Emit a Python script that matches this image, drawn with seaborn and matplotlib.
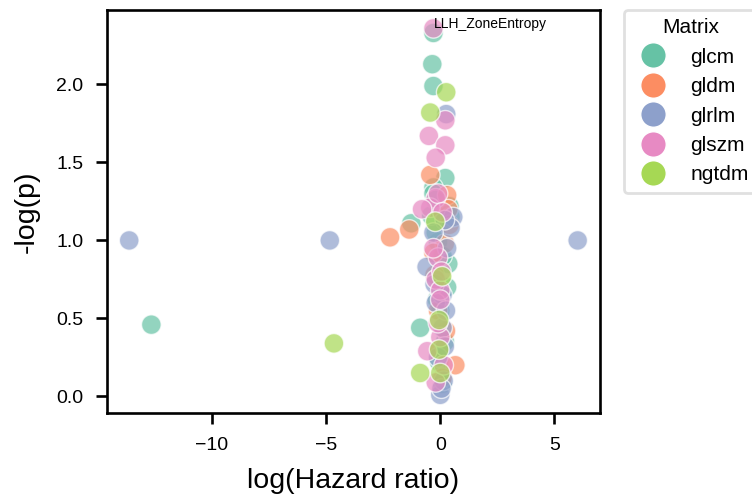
import matplotlib
matplotlib.use("Agg")
import matplotlib.pyplot as plt
import seaborn as sns
import pandas as pd

# ---- data ----
glcm_x = [-12.66, -1.27, -0.30, -0.35, -0.30, 0.22, -0.30, -0.88, -0.10, 0.35, -0.30, 0.40,
          -0.20, 0.10, -0.15, 0.30, -0.40, 0.00, 0.20, -0.05, 0.10, -0.20, 0.45]
glcm_y = [0.46, 1.11, 2.33, 2.13, 1.99, 1.40, 1.34, 0.44, 0.99, 0.85, 1.30, 1.22,
          1.05, 0.90, 0.62, 0.70, 1.16, 0.55, 0.35, 0.22, 0.08, 1.26, 1.15]

gldm_x = [-2.20, -1.36, -0.44, 0.30, 0.20, 0.66, -0.30, 0.35, -0.10, 0.25, -0.05, 0.10, 0.40, -0.25]
gldm_y = [1.02, 1.07, 1.42, 1.29, 0.98, 0.20, 0.92, 1.20, 0.55, 0.42, 0.30, 0.12, 1.10, 0.78]

glrlm_x = [-13.63, -4.84, 6.02, 0.26, 0.57, 0.45, -0.60, 0.10, 0.00, 0.20, -0.30, 0.10,
           -0.20, 0.25, -0.10, 0.15, 0.05, 0.30, -0.25, 0.20]
glrlm_y = [1.00, 1.00, 1.00, 1.81, 1.15, 1.08, 0.83, 0.44, 0.01, 1.13, 1.05, 0.65,
           0.60, 0.55, 0.25, 0.10, 0.05, 0.95, 0.72, 0.32]

glszm_x = [-0.30, 0.22, -0.50, 0.22, -0.20, -0.20, -0.44, -0.80, -0.10, -0.10, -0.20, 0.00,
           0.00, 0.00, -0.57, -0.20, 0.10, -0.30, 0.05, -0.10, 0.15]
glszm_y = [2.36, 1.77, 1.67, 1.61, 1.53, 1.27, 1.21, 1.20, 1.30, 0.89, 0.75, 0.68,
           0.62, 0.38, 0.29, 0.09, 1.18, 0.95, 0.80, 0.47, 0.20]

ngtdm_x = [0.26, -0.44, -4.66, -0.22, 0.08, -0.05, -0.05, -0.88, 0.00]
ngtdm_y = [1.95, 1.82, 0.34, 1.12, 0.77, 0.49, 0.30, 0.15, 0.15]

matrices = ["glcm", "gldm", "glrlm", "glszm", "ngtdm"]
annot_label = "LLH_ZoneEntropy"
annot_x, annot_y = glszm_x[0], glszm_y[0]

xs = [glcm_x, gldm_x, glrlm_x, glszm_x, ngtdm_x]
ys = [glcm_y, gldm_y, glrlm_y, glszm_y, ngtdm_y]
rows = []
for m, xv, yv in zip(matrices, xs, ys):
    for a, b in zip(xv, yv):
        rows.append({"log(Hazard ratio)": a, "-log(p)": b, "Matrix": m})
df = pd.DataFrame(rows)

sns.set_style("ticks")
plt.rcParams["font.family"] = ["Liberation Sans", "DejaVu Sans"]
plt.rcParams["axes.linewidth"] = 1.9
plt.rcParams["axes.edgecolor"] = "black"
plt.rcParams["text.color"] = "black"
plt.rcParams["axes.labelcolor"] = "black"
plt.rcParams["xtick.color"] = "black"
plt.rcParams["ytick.color"] = "black"
plt.rcParams["xtick.major.width"] = 1.9
plt.rcParams["ytick.major.width"] = 1.9
plt.rcParams["xtick.major.size"] = 8
plt.rcParams["ytick.major.size"] = 8

fig = plt.figure(figsize=(7.52, 4.99), dpi=100)
ax = fig.add_axes([0.142, 0.172, 0.656, 0.808])

sns.scatterplot(data=df, x="log(Hazard ratio)", y="-log(p)", hue="Matrix",
                hue_order=matrices, palette="Set2", s=200, alpha=0.7,
                edgecolor="white", linewidth=1, ax=ax)

ax.text(annot_x, annot_y, annot_label, fontsize=10)

ax.set_xlabel("log(Hazard ratio)", fontsize=20.5, labelpad=10)
ax.set_ylabel("-log(p)", fontsize=20.5, labelpad=12)
ax.tick_params(labelsize=14, pad=9)
ax.set_xticks([-10, -5, 0, 5])
ax.set_yticks([0.0, 0.5, 1.0, 1.5, 2.0])

sns.move_legend(ax, "upper left", bbox_to_anchor=(1.048, 1.0), borderaxespad=0,
                title="Matrix", fontsize=15, title_fontsize=15, markerscale=1.3,
                frameon=True)
leg = ax.get_legend()
leg.get_frame().set_linewidth(2)
leg.get_frame().set_edgecolor("#d9d9d9")
for h in leg.legend_handles:
    h.set_alpha(1)

fig.savefig("out.png", dpi=100)
